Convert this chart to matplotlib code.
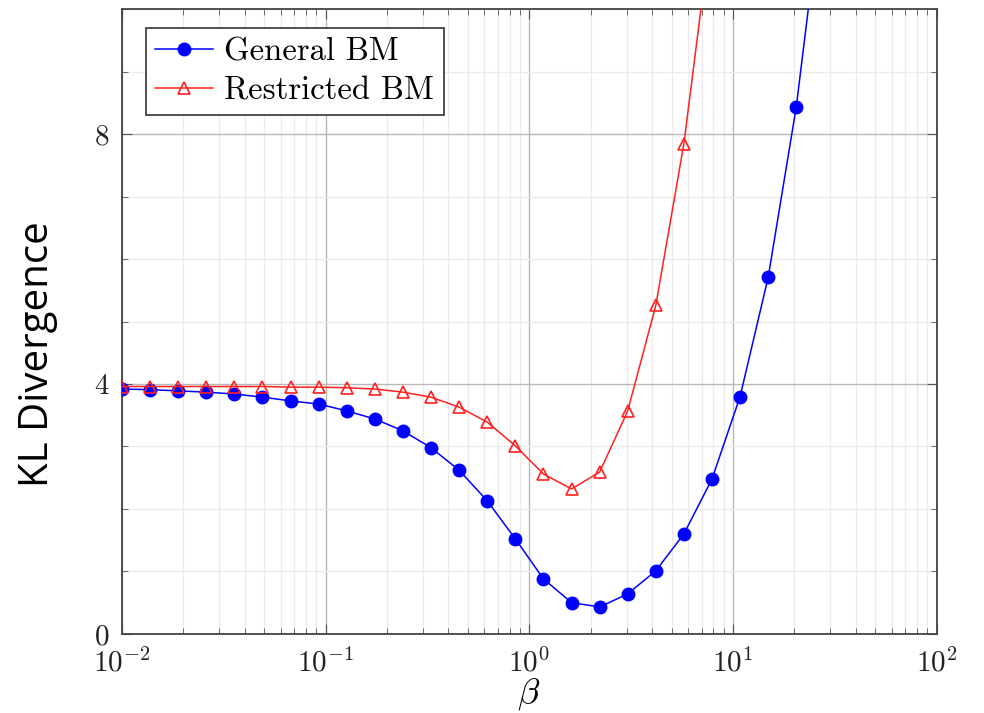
import numpy as np
import matplotlib
matplotlib.use("Agg")
from matplotlib import pyplot as plt
from matplotlib.ticker import LogLocator, MultipleLocator, NullFormatter

plt.rcParams['font.family'] = 'serif'
plt.rcParams['font.serif'] = ['cmr10']
plt.rcParams['mathtext.fontset'] = 'cm'
plt.rcParams['axes.formatter.use_mathtext'] = True

# beta values (log spaced, 30 points from 1e-2 to 1e2)
beta = np.logspace(-2, 2, 30)

general_bm = [3.92, 3.91, 3.89, 3.87, 3.84, 3.79, 3.73, 3.68, 3.57, 3.44,
              3.25, 2.98, 2.62, 2.13, 1.52, 0.88, 0.50, 0.43, 0.64, 1.01,
              1.60, 2.48, 3.80, 5.71, 8.44, 12.1]
restricted_bm = [3.96, 3.96, 3.96, 3.96, 3.96, 3.96, 3.95, 3.95, 3.94, 3.92,
                 3.87, 3.79, 3.63, 3.39, 3.01, 2.56, 2.32, 2.59, 3.57, 5.26,
                 7.85, 11.4]

fig = plt.figure(figsize=(9.84, 7.13), dpi=100)
ax = fig.add_axes([0.124, 0.111, 0.828, 0.876])

ax.plot(beta[:len(general_bm)], general_bm, color='blue', lw=1.1, marker='o',
        ms=9, label='General BM', zorder=3)
ax.plot(beta[:len(restricted_bm)], restricted_bm, color='#ff2020', lw=1.1, marker='^',
        ms=8.5, mfc='none', mec='#ff2020', mew=1.2, label='Restricted BM', zorder=3)

ax.set_xscale('log')
ax.set_xlim(1e-2, 1e2)
ax.set_ylim(0, 10)
ax.xaxis.set_major_locator(LogLocator(base=10, numticks=10))
ax.xaxis.set_minor_locator(LogLocator(base=10, subs=np.arange(2, 10), numticks=20))
ax.xaxis.set_minor_formatter(NullFormatter())
ax.yaxis.set_major_locator(MultipleLocator(4))
ax.yaxis.set_minor_locator(MultipleLocator(1))

ax.grid(which='major', color='#b8b8b8', lw=1.0)
ax.grid(which='minor', color='#ebebeb', lw=1.0)
ax.set_axisbelow(True)

ax.tick_params(which='both', direction='in', top=True, right=True,
               colors='#555555', labelcolor='#222222')
ax.tick_params(which='major', length=7, labelsize=21)
ax.tick_params(axis='x', which='major', pad=10)
ax.tick_params(axis='y', which='major', pad=9)
ax.tick_params(which='minor', length=4)
for s in ax.spines.values():
    s.set_color('#444444')
    s.set_linewidth(1.3)

# beta label sits just under the tick labels, as in the original
fig.text(0.537, 0.001, r'$\beta$', fontsize=26, ha='center', va='bottom')
ax.set_ylabel('KL Divergence', fontsize=29, family='Open Sans')
ax.yaxis.set_label_coords(-0.078, 0.448)

leg = ax.legend(loc='upper left', fontsize=23.5, fancybox=False, framealpha=1,
                edgecolor='#333333', borderpad=0.3, handlelength=1.75,
                handletextpad=0.35, labelspacing=0.3,
                bbox_to_anchor=(0.029, 0.97), borderaxespad=0)
leg.get_frame().set_linewidth(1.2)

fig.savefig('out.png', dpi=100)
